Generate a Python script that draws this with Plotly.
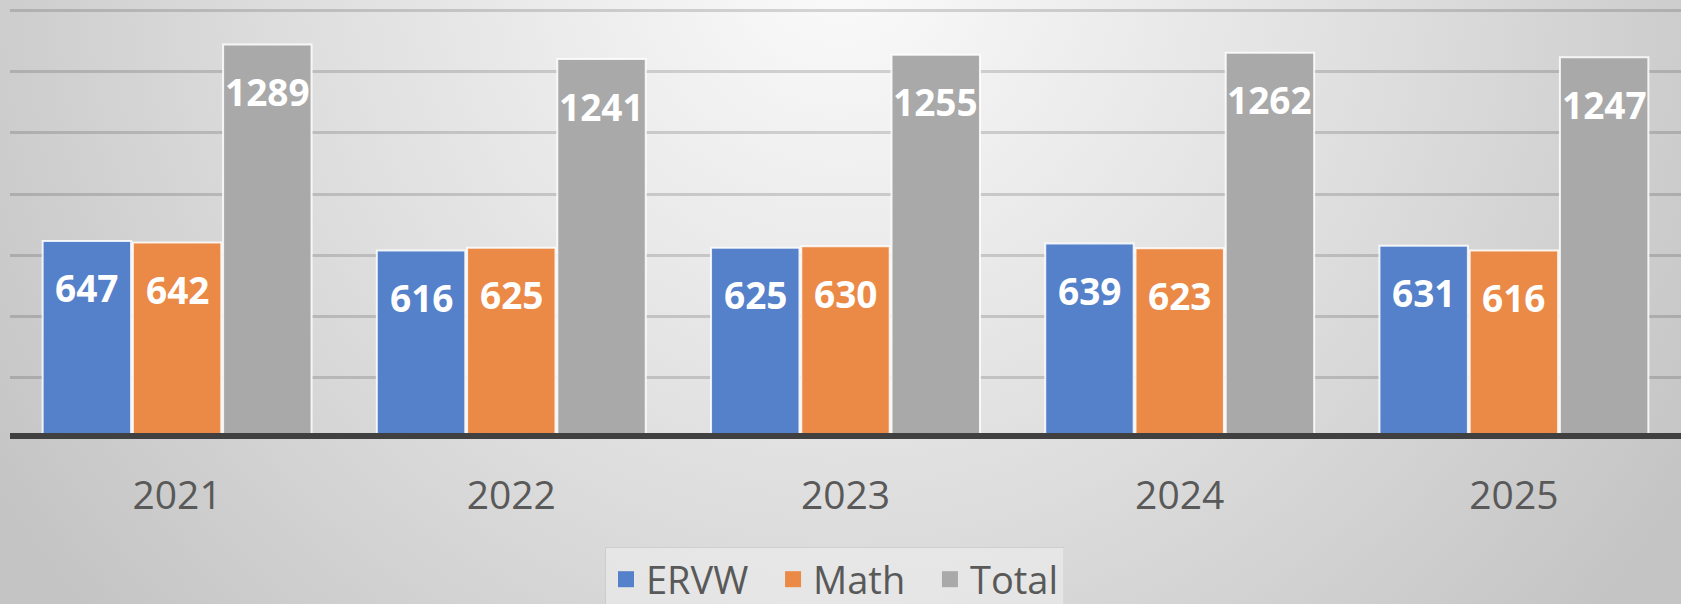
import base64
import plotly.graph_objects as go

years = ["2021", "2022", "2023", "2024", "2025"]
ervw = [647, 616, 625, 639, 631]
math_scores = [642, 625, 630, 623, 616]
total = [1289, 1241, 1255, 1262, 1247]

series = [
    ("ERVW", ervw, "#5580ca"),
    ("Math", math_scores, "#eb8947"),
    ("Total", total, "#a9a9a9"),
]

W, H = 1681, 604
ML, MR, MT, MB = 10, 0, 0, 165
BARGAP = 0.19
FONT = "Open Sans, Noto Sans, sans-serif"

# soft radial grey background like the Office chart style
svg = f"""<svg xmlns='http://www.w3.org/2000/svg' width='{W}' height='{H}'>
<defs><radialGradient id='g' gradientUnits='userSpaceOnUse' cx='{W/2}' cy='-40' r='1000'>
<stop offset='0' stop-color='#fbfbfb'/><stop offset='0.55' stop-color='#dedede'/>
<stop offset='1' stop-color='#c4c4c4'/></radialGradient></defs>
<rect width='{W}' height='{H}' fill='url(#g)'/></svg>"""
bg_src = "data:image/svg+xml;base64," + base64.b64encode(svg.encode()).decode()

fig = go.Figure()
for name, vals, color in series:
    fig.add_trace(go.Bar(
        x=years, y=vals, name=name, showlegend=False,
        marker=dict(color=color, line=dict(color="rgba(255,255,255,0.85)", width=2)),
        hoverinfo="x+y+name",
    ))
# legend entries with a bigger square swatch (a little padding between entries)
for k, (name, vals, color) in enumerate(series):
    pad = "\u00a0\u00a0" if k < len(series) - 1 else ""
    fig.add_trace(go.Scatter(
        x=[years[0]], y=[None], mode="markers", name=name + pad,
        marker=dict(symbol="square", size=16, color=color),
    ))

# data labels near the top inside each bar (x given as category index)
pw = W - ML - MR
slot = pw / len(years) * (1 - BARGAP) / len(series)
for i, (name, vals, color) in enumerate(series):
    for j, v in enumerate(vals):
        fig.add_annotation(
            x=j, y=v, text=f"<b>{v}</b>", showarrow=False,
            xshift=(i - 1) * slot, yshift=-47, yanchor="middle",
            font=dict(family=FONT, size=37, color="white"),
        )

fig.update_layout(
    width=W, height=H,
    margin=dict(l=ML, r=MR, t=MT, b=MB, autoexpand=False),
    paper_bgcolor="#d9d9d9",
    plot_bgcolor="rgba(0,0,0,0)",
    barmode="group", bargap=BARGAP, bargroupgap=0.02,
    font=dict(family=FONT, color="#595959"),
    images=[dict(
        source=bg_src, xref="paper", yref="paper",
        x=-ML / pw, y=1 + MT / (H - MT - MB),
        sizex=W / pw, sizey=H / (H - MT - MB),
        xanchor="left", yanchor="top", sizing="stretch", layer="below",
    )],
    legend=dict(
        orientation="h", x=0.5 - 11 / pw, xanchor="center",
        y=-(547 - (H - MB)) / (H - MT - MB), yanchor="top",
        font=dict(size=38, color="#595959", family=FONT),
        bgcolor="rgba(240,240,240,0.55)", bordercolor="rgba(0,0,0,0.05)", borderwidth=1,
        itemwidth=30,
    ),
    showlegend=True,
)
fig.update_xaxes(
    type="category", categoryorder="array", categoryarray=years,
    range=[-0.5, len(years) - 0.5],
    showgrid=False, showline=False, ticks="",
    tickfont=dict(size=39, color="#595959", family=FONT),
    ticklabelstandoff=30,
)
fig.update_yaxes(
    range=[0, 1434], dtick=200, showticklabels=False,
    showgrid=True, gridcolor="rgba(0,0,0,0.15)", gridwidth=3,
    zeroline=False,
)
# thick dark baseline
fig.add_shape(
    type="line", xref="paper", x0=0, x1=1, yref="y", ysizemode="pixel",
    yanchor=0, y0=3, y1=3, line=dict(color="#404040", width=6), layer="above",
)

fig.write_html(
    "out.html",
    config={"displayModeBar": False},
    post_script="document.body.style.margin='0px';",
)
